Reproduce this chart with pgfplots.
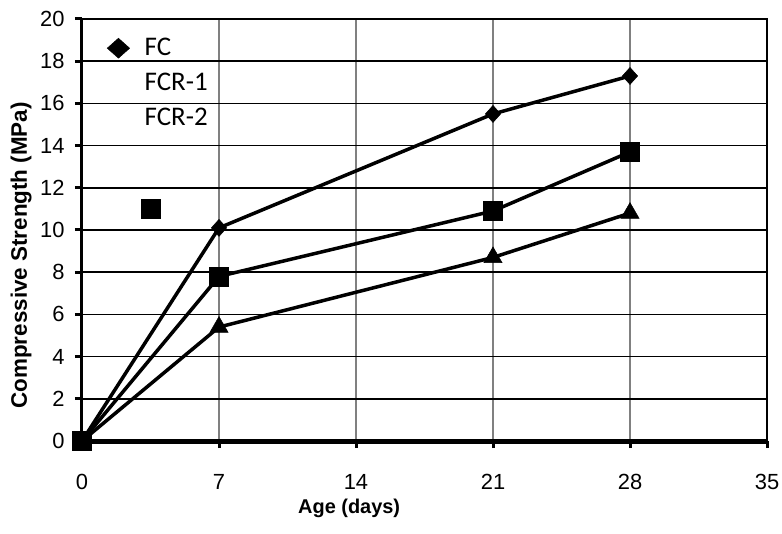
\documentclass[border=0pt]{standalone}
\usepackage{fontspec}
\setmainfont{Liberation Sans}
\newfontfamily\carlito{Carlito}
\usepackage{pgfplots}
\pgfplotsset{compat=1.18}
\begin{document}
\begin{tikzpicture}
\useasboundingbox (-82bp,-93bp) rectangle (700bp,441bp);
\begin{axis}[
  scale only axis, width=685bp, height=422bp,
  at={(0,0)}, anchor=south west,
  xmin=0, xmax=35, ymin=0, ymax=20,
  xtick={0,7,14,21,28,35}, ytick={0,2,4,6,8,10,12,14,16,18,20},
  /pgf/number format/assume math mode=true,
  ticklabel style={font=\fontsize{22}{24}\selectfont},
  xticklabel style={yshift=-23bp},
  yticklabel style={xshift=-7bp},
  tick align=outside, xtick pos=bottom, ytick pos=left,
  major tick length=7bp,
  tick style={line width=3bp, black},
  xmajorgrids, ymajorgrids,
  major x grid style={line width=1.3bp, gray},
  major y grid style={line width=1.5bp, black},
  axis line style={line width=1.3bp, black},
  clip=false,
  xlabel={Age (days)}, ylabel={Compressive Strength (MPa)},
  xlabel style={font=\bfseries\fontsize{20}{22}\selectfont, at={(axis description cs:0.39,-0.137)}, anchor=north, inner sep=0pt},
  ylabel style={font=\bfseries\fontsize{22.5}{24}\selectfont, at={(axis description cs:-0.089,0.44)}, anchor=center, inner sep=0pt},
  legend style={at={(rel axis cs:0,1)}, anchor=north west, xshift=25bp, yshift=-15bp,
    draw=none, fill=none, font=\carlito\fontsize{27}{29}\selectfont,
    inner sep=0pt, row sep=7bp,
    nodes={inner sep=2bp, text height=19bp, text depth=5bp},
    /tikz/every odd column/.append style={column sep=13bp}},
  legend cell align=left,
]
\draw[line width=5bp, black] (rel axis cs:0,0) -- (rel axis cs:1,0);
\draw[line width=3bp, black] (rel axis cs:0,0) -- (rel axis cs:0,1);
\addlegendimage{only marks, black, mark=diamond*, mark size=10bp, mark options={xscale=1.5}}
\addlegendentry{FC}
\addlegendimage{legend image code/.code={\path[draw=none, fill=none] (0cm,0cm) -- (0.6cm,0cm);}}
\addlegendentry{FCR-1}
\addlegendimage{legend image code/.code={\path[draw=none, fill=none] (0cm,0cm) -- (0.6cm,0cm);}}
\addlegendentry{FCR-2}
% FCR-2
\addplot[forget plot, black, line width=3.5bp, mark=triangle*, mark size=10.5bp, mark options={solid, line width=0.5bp}]
  coordinates {(0,0) (7,5.4) (21,8.7) (28,10.8)};
% FC
\addplot[forget plot, black, line width=3.5bp, mark=diamond*, mark size=8.5bp, mark options={solid, line width=0.5bp, xscale=1.2}]
  coordinates {(0,0) (7,10.1) (21,15.5) (28,17.3)};
% FCR-1
\addplot[forget plot, black, line width=3.5bp, mark=square*, mark size=9.5bp, mark options={solid, line width=0.5bp}]
  coordinates {(0,0) (7,7.8) (21,10.9) (28,13.7)};
% stray legend marker
\addplot[forget plot, only marks, black, mark=square*, mark size=9.5bp, mark options={line width=0.5bp}]
  coordinates {(3.5,11)};
\end{axis}
\end{tikzpicture}
\end{document}
